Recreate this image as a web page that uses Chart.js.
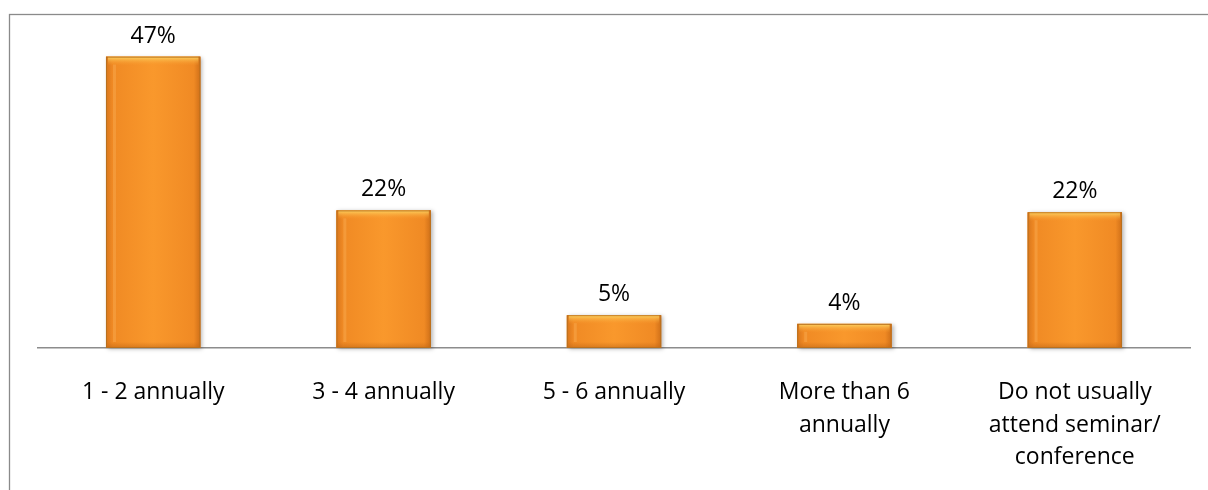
<!DOCTYPE html>
<html>
<head>
<meta charset="utf-8">
<script src="https://cdn.jsdelivr.net/npm/chart.js@4.4.1/dist/chart.umd.min.js"></script>
<style>
  html, body { margin: 0; padding: 0; background: #fff; }
  #wrap { width: 1208px; height: 490px; }
</style>
</head>
<body>
<div id="wrap"><canvas id="seminarChart" width="1208" height="490"></canvas></div>
<script>
const categories = [
  "1 - 2 annually",
  "3 - 4 annually",
  "5 - 6 annually",
  ["More than 6", "annually"],
  ["Do not usually", "attend seminar/", "conference"]
];
const shares = [47, 22.2, 5.3, 3.9, 21.9];

const FONT = "'Open Sans', sans-serif";

// grey frame round the chart, only top and left edges fall inside the picture
const framePlugin = {
  id: "frame",
  beforeDraw(chart) {
    const ctx = chart.ctx;
    ctx.save();
    ctx.strokeStyle = "#8a8a8a";
    ctx.lineWidth = 1.3;
    ctx.strokeRect(9.5, 14.5, 1400, 800);
    ctx.restore();
  }
};

// orange bevelled bars drawn over the bar elements
const bevelPlugin = {
  id: "bevel",
  afterDatasetsDraw(chart) {
    const ctx = chart.ctx;
    const meta = chart.getDatasetMeta(0);
    meta.data.forEach((bar) => {
      const left = bar.x - bar.width / 2;
      const right = bar.x + bar.width / 2;
      const top = bar.y;
      const bottom = bar.base;
      const w = right - left;
      const h = bottom - top;
      ctx.save();

      ctx.shadowColor = "rgba(0,0,0,0.28)";
      ctx.shadowBlur = 4;
      ctx.shadowOffsetX = 2;
      ctx.shadowOffsetY = 1;
      const hg = ctx.createLinearGradient(left, 0, right, 0);
      hg.addColorStop(0, "#d8761c");
      hg.addColorStop(0.07, "#f08a24");
      hg.addColorStop(0.5, "#f9982c");
      hg.addColorStop(0.93, "#f08a24");
      hg.addColorStop(1, "#cf6f18");
      ctx.fillStyle = hg;
      ctx.fillRect(left, top, w, h);
      ctx.shadowColor = "transparent";

      ctx.beginPath();
      ctx.rect(left, top, w, h);
      ctx.clip();

      const tg = ctx.createLinearGradient(0, top, 0, top + 9);
      tg.addColorStop(0, "rgba(252,214,100,1)");
      tg.addColorStop(1, "rgba(249,152,44,0)");
      ctx.fillStyle = tg;
      ctx.fillRect(left + 2, top, w - 4, 9);

      const bg = ctx.createLinearGradient(0, bottom - 6, 0, bottom);
      bg.addColorStop(0, "rgba(190,100,20,0)");
      bg.addColorStop(1, "rgba(190,100,20,0.55)");
      ctx.fillStyle = bg;
      ctx.fillRect(left, bottom - 6, w, 6);

      ctx.fillStyle = "rgba(255,200,120,0.25)";
      ctx.fillRect(left + 7, top + 8, 3, Math.max(0, h - 14));

      ctx.strokeStyle = "#b8701e";
      ctx.lineWidth = 1;
      ctx.strokeRect(left + 0.5, top + 0.5, w - 1, h - 1);
      ctx.restore();
    });
  }
};

// percentage labels above the bars
const valueLabelPlugin = {
  id: "valueLabels",
  afterDatasetsDraw(chart) {
    const ctx = chart.ctx;
    const meta = chart.getDatasetMeta(0);
    const values = chart.data.datasets[0].data;
    ctx.save();
    ctx.fillStyle = "#000";
    ctx.font = "23px " + FONT;
    ctx.textAlign = "center";
    ctx.textBaseline = "alphabetic";
    meta.data.forEach((bar, i) => {
      ctx.fillText(Math.round(values[i]) + "%", bar.x, bar.y - 14);
    });
    ctx.restore();
  }
};

new Chart(document.getElementById("seminarChart"), {
  type: "bar",
  data: {
    labels: categories,
    datasets: [
      {
        data: shares,
        backgroundColor: "#f7922a",
        borderWidth: 0,
        categoryPercentage: 1,
        barPercentage: 0.41
      }
    ]
  },
  options: {
    responsive: false,
    animation: false,
    layout: { padding: { left: 38, right: 18, top: 38, bottom: 0 } },
    plugins: {
      legend: { display: false },
      tooltip: { enabled: false }
    },
    scales: {
      x: {
        grid: { display: false, drawTicks: false },
        border: { display: true, color: "#8c8c8c", width: 1.5 },
        ticks: {
          color: "#000",
          padding: 28,
          maxRotation: 0,
          autoSkip: false,
          font: { family: FONT, size: 23, lineHeight: 1.42 }
        },
        afterFit(scale) { scale.height = 142; }
      },
      y: {
        display: false,
        min: 0,
        max: 50
      }
    }
  },
  plugins: [framePlugin, bevelPlugin, valueLabelPlugin]
});
</script>
</body>
</html>
